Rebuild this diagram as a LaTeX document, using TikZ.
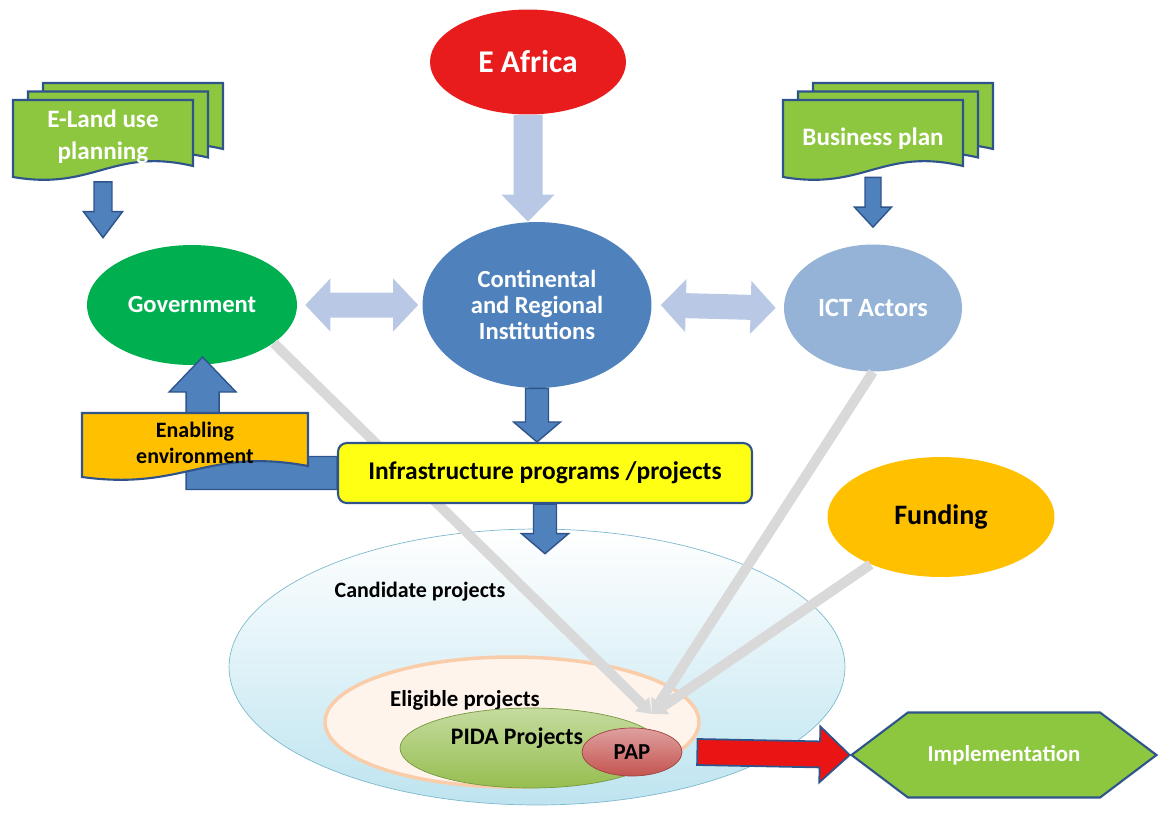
\documentclass[tikz,border=0pt]{standalone}
\usepackage{fontspec}
\setmainfont{Carlito}
\usetikzlibrary{shapes.geometric,shapes.symbols,calc,arrows.meta}

\definecolor{navy}{RGB}{47,84,140}
\definecolor{docgreen}{RGB}{141,198,63}
\definecolor{govgreen}{RGB}{0,176,80}
\definecolor{afred}{RGB}{232,28,28}
\definecolor{contblue}{RGB}{79,129,189}
\definecolor{ictblue}{RGB}{149,179,215}
\definecolor{paleblue}{RGB}{185,200,228}
\definecolor{amber}{RGB}{255,192,0}
\definecolor{lemon}{RGB}{255,255,20}
\definecolor{feedgray}{RGB}{217,217,217}
\definecolor{candblue}{RGB}{190,228,240}
\definecolor{candedge}{RGB}{125,185,205}
\definecolor{peach}{RGB}{250,205,170}
\definecolor{pidagreen}{RGB}{150,190,80}
\definecolor{papred}{RGB}{196,84,80}
\definecolor{arrowred}{RGB}{235,20,20}

\newcommand\docshape[5]{%
  \draw[#1] (#2,#3) -- (#4,#3) -- (#4,{(#5)-11})
    .. controls ({(#2)+0.55*((#4)-(#2))},{(#5)-30}) and ({(#2)+0.45*((#4)-(#2))},{(#5)+14}) .. (#2,{#5}) -- cycle;}

\newcommand\blockarrow[6]{%
  \coordinate (ba-s) at #2; \coordinate (ba-e) at #3;
  \coordinate (ba-h) at ($(ba-e)!#6!(ba-s)$);
  \path[#1] ($(ba-s)!#4!90:(ba-e)$) -- ($(ba-h)!#4!90:(ba-e)$) -- ($(ba-h)!#5!90:(ba-e)$) -- (ba-e)
    -- ($(ba-h)!#5!-90:(ba-e)$) -- ($(ba-h)!#4!-90:(ba-e)$) -- ($(ba-s)!#4!-90:(ba-e)$) -- cycle;}

\newcommand\twowayarrow[6]{%
  \coordinate (ba-s) at #2; \coordinate (ba-e) at #3;
  \coordinate (ba-a) at ($(ba-s)!#6!(ba-e)$); \coordinate (ba-b) at ($(ba-e)!#6!(ba-s)$);
  \path[#1] (ba-s) -- ($(ba-a)!#5!90:(ba-e)$) -- ($(ba-a)!#4!90:(ba-e)$) -- ($(ba-b)!#4!90:(ba-e)$)
    -- ($(ba-b)!#5!90:(ba-e)$) -- (ba-e) -- ($(ba-b)!#5!-90:(ba-e)$) -- ($(ba-b)!#4!-90:(ba-e)$)
    -- ($(ba-a)!#4!-90:(ba-e)$) -- ($(ba-a)!#5!-90:(ba-e)$) -- cycle;}

\begin{document}
\begin{tikzpicture}[x=0.02cm, y=-0.02cm,
  every node/.style={font=\bfseries, inner sep=0pt, align=center},
  sz/.style 2 args={font=\fontsize{#1}{#2}\selectfont\bfseries},
  doc/.style={fill=docgreen, draw=navy, line width=1.2pt},
  bluearrow/.style={fill=contblue, draw=navy, line width=0.8pt},
  palearrow/.style={fill=paleblue},
  feed/.style={draw=feedgray, line width=0.2cm, -{Triangle[width=0.38cm,length=0.28cm]}}]
\useasboundingbox (0,0) rectangle (1160,819);

\node[ellipse, minimum width=12.32cm, minimum height=5.52cm, top color=white, bottom color=candblue, draw=candedge] (cand) at (537,667) {};
\node[sz={12.5}{15}] (candlab) at (420,592) {Candidate projects};
\node[ellipse, minimum width=7.48cm, minimum height=2.6cm, fill=peach!22!white, draw=peach, line width=2pt] (elig) at (512,722) {};
\node[sz={13}{15}] (eliglab) at (465,700) {Eligible projects};
\node[ellipse, minimum width=5.24cm, minimum height=1.6cm, top color=pidagreen!55!white, bottom color=pidagreen, draw=pidagreen!80!black] (pida) at (531,748) {};
\node[sz={13.5}{15}] (pidalab) at (517,738) {PIDA Projects};
\node[ellipse, minimum width=2cm, minimum height=0.96cm, top color=papred!55!white, bottom color=papred, draw=papred!80!black, sz={13}{15}] (pap) at (632,752) {PAP};

\node[ellipse, fill=afred, text=white, minimum width=3.92cm, minimum height=2.1cm, sz={18}{20}] (eaf) at (528,62) {E Africa};
\node[ellipse, fill=govgreen, text=white, minimum width=4.2cm, minimum height=2.4cm, sz={14}{16}] (gov) at (192,305) {Government};
\node[ellipse, fill=contblue, text=white, minimum width=4.58cm, minimum height=3.32cm, sz={14}{15}] (cont) at (537,305) {Continental\\and Regional\\Institutions};
\node[ellipse, fill=ictblue, text=white, minimum width=3.56cm, minimum height=2.54cm, sz={15}{17}] (ict) at (873,308) {ICT Actors};
\node[ellipse, fill=amber, minimum width=4.54cm, minimum height=2.4cm, sz={16}{18}] (fund) at (941,517) {Funding};

\coordinate (hub) at (652,714);
\draw[feed] (gov.-25) -- (hub);
\draw[feed] (ict.south) -- (hub);
\draw[feed] (fund.-146) -- (hub);

\node[rectangle, rounded corners=5pt, fill=lemon, draw=navy, line width=1.2pt, minimum width=8.28cm, minimum height=1.2cm, sz={14.5}{16}] (infra) at (545,473) {Infrastructure programs /projects};

\coordinate (lt) at ($(gov.-80)+(0,0.16cm)$);
\coordinate (lc) at (lt |- infra.west);
\path[bluearrow] ($(infra.west)+(0,0.33cm)$) -- ($(lc)+(0.33cm,0.33cm)$) -- ($(lt)+(0.33cm,-0.7cm)$)
  -- ($(lt)+(0.67cm,-0.7cm)$) -- (lt) -- ($(lt)+(-0.67cm,-0.7cm)$) -- ($(lt)+(-0.33cm,-0.7cm)$)
  -- ($(lc)+(-0.33cm,-0.33cm)$) -- ($(infra.west)+(0,-0.33cm)$) -- cycle;
\docshape{fill=amber, draw=navy, line width=1.2pt}{82}{413}{308}{477}
\node[sz={12.5}{15}] (enab) at (195,443) {Enabling\\environment};

\blockarrow{palearrow}{(eaf.south)}{(eaf.south |- cont.north)}{0.29cm}{0.53cm}{0.54cm}
\twowayarrow{palearrow}{($(gov.east)+(8,0)$)}{($(cont.west)+(-4,0)$)}{0.25cm}{0.53cm}{0.5cm}
\twowayarrow{palearrow}{($(cont.east)+(9,0)$)}{($(ict.west)+(-8,0)$)}{0.25cm}{0.53cm}{0.5cm}
\blockarrow{bluearrow}{(cont.south)}{(cont.south |- infra.north)}{0.23cm}{0.47cm}{0.4cm}
\blockarrow{bluearrow}{(infra.south)}{($(infra.south |- cand.north)+(0,25)$)}{0.23cm}{0.47cm}{0.4cm}

\foreach \d in {2,1,0} {
  \docshape{doc}{13+15*\d}{100-8.5*\d}{193+15*\d}{177-8.5*\d}
  \docshape{doc}{783+15*\d}{100-8.5*\d}{963+15*\d}{177-8.5*\d}
}
\node[text=white, sz={14.3}{18}, minimum width=3.6cm, minimum height=1.54cm] (eland) at (103,137) {E-Land use\\planning};
\node[text=white, sz={14.3}{18}, minimum width=3.6cm, minimum height=1.54cm] (bplan) at (873,138.5) {Business plan};
\blockarrow{bluearrow}{($(eland.south)+(0,6)$)}{($(eland.south |- gov.north)+(0,-7)$)}{0.18cm}{0.39cm}{0.52cm}
\blockarrow{bluearrow}{(bplan.south)}{($(bplan.south |- ict.north)+(0,-17)$)}{0.16cm}{0.37cm}{0.4cm}

\node[signal, signal to=west and east, signal pointer angle=74, fill=docgreen, draw=navy, line width=1.2pt, text=white, minimum width=6.1cm, minimum height=1.7cm, sz={13}{15}] (impl) at (1004,755) {Implementation};
\blockarrow{fill=arrowred, draw=navy, line width=1pt}{($(pap.east)+(15,0)$)}{(impl.west)}{0.26cm}{0.56cm}{0.6cm}
\end{tikzpicture}
\end{document}
